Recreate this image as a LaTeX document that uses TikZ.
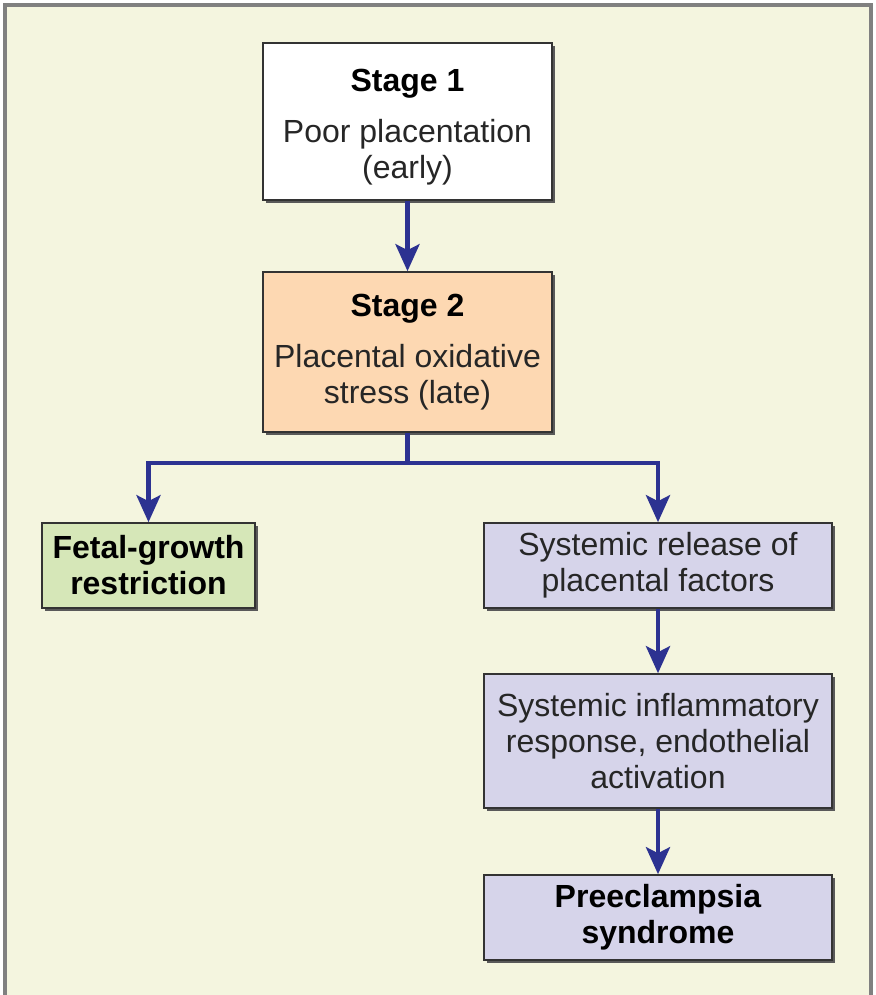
\documentclass[tikz,border=0pt]{standalone}
\usepackage{fontspec}
\setmainfont{Liberation Sans}
\usepackage{xcolor}
\usetikzlibrary{arrows.meta, shadows}

\definecolor{panelcream}{HTML}{F4F5DF}
\definecolor{stagepeach}{HTML}{FDD8B2}
\definecolor{fetalgreen}{HTML}{D6E7B8}
\definecolor{systemlilac}{HTML}{D6D4EA}
\definecolor{arrowblue}{HTML}{2C3291}

\begin{document}
\begin{tikzpicture}[x=1pt, y=-1pt,
    box/.style={draw=black!80, line width=1.6pt, inner sep=0pt, align=center,
                font=\fontsize{32}{36}\selectfont, text=black!85,
                drop shadow={shadow xshift=3pt, shadow yshift=-3pt, fill=black!65, opacity=1}},
    flow/.style={draw=arrowblue, line width=4.5pt,
                 -{Stealth[length=27pt, width=24pt, inset=6pt]}}]
    \useasboundingbox (0, 0) rectangle (875, 995);

    % draw cream panel with its grey frame
    \fill[panelcream] (5, 5) rectangle (871, 995);
    \draw[gray, line width=3.5pt] (5, 995) -- (5, 5) -- (871, 5) -- (871, 995);

    % draw the boxes
    \node[box, fill=white, minimum width=289pt, minimum height=157pt] (stageone) at (407.5, 121.5)
      {\strut\\[-28pt]\textcolor{black}{\textbf{Stage 1}}\\[15pt]Poor placentation\\(early)};
    \node[box, fill=stagepeach, minimum width=289pt, minimum height=160pt] (stagetwo) at (407.5, 352)
      {\textcolor{black}{\textbf{Stage 2}}\\[15pt]Placental oxidative\\stress (late)};
    \node[box, fill=fetalgreen, minimum width=213pt, minimum height=85pt, text=black] (fetal) at (148.5, 565.5)
      {\textbf{Fetal-growth}\\\textbf{restriction}};
    \node[box, fill=systemlilac, minimum width=348pt, minimum height=85pt] (release) at (658, 565.5)
      {Systemic release of\\placental factors};
    \node[box, fill=systemlilac, minimum width=348pt, minimum height=134pt] (inflam) at (658, 741)
      {Systemic inflammatory\\response, endothelial\\activation};
    \node[box, fill=systemlilac, minimum width=348pt, minimum height=85pt, text=black] (preec) at (658, 917.5)
      {\textbf{Preeclampsia}\\\textbf{syndrome}};

    % draw the arrows
    \coordinate (split) at (407.5, 463);
    \draw[flow] (stageone) -- (stagetwo);
    \draw[draw=arrowblue, line width=4.5pt] (stagetwo.south) -- (split);
    \draw[flow] (split) -| (fetal.north);
    \draw[flow] (split) -| (release.north);
    \draw[flow] (release) -- (inflam);
    \draw[flow] (inflam) -- (preec);

\end{tikzpicture}
\end{document}
